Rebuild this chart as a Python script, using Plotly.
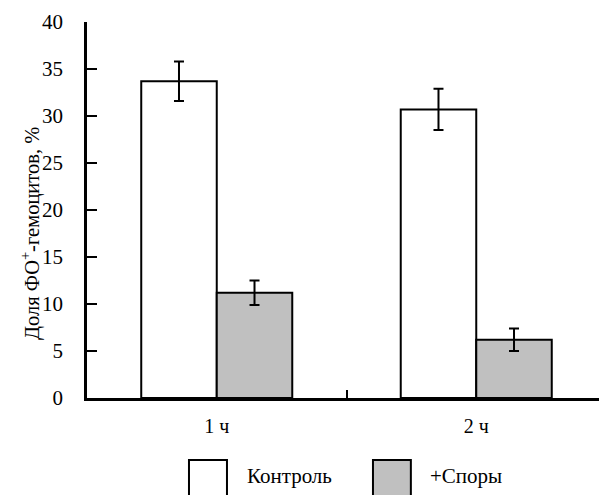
import plotly.graph_objects as go

categories = ["1 ч", "2 ч"]
control = [33.7, 30.7]
control_err = [2.1, 2.2]
spores = [11.2, 6.2]
spores_err = [1.3, 1.2]
series_names = ["Контроль", "+Споры"]
y_ticks = [0, 5, 10, 15, 20, 25, 30, 35, 40]
y_title = "Доля ФО<sup>+</sup>-гемоцитов, %"

FONT = "Liberation Serif"

fig = go.Figure()
fig.add_trace(go.Bar(
    x=categories, y=control, name=series_names[0],
    marker=dict(color="white", line=dict(color="black", width=2)),
    error_y=dict(type="data", array=control_err, color="black", thickness=2, width=5),
    showlegend=False,
))
fig.add_trace(go.Bar(
    x=categories, y=spores, name=series_names[1],
    marker=dict(color="#c0c0c0", line=dict(color="black", width=2)),
    error_y=dict(type="data", array=spores_err, color="black", thickness=2, width=5),
    showlegend=False,
))

# manual legend (large swatches like the reference)
legend_items = [
    (0.1965, 0.2697, "white", 0.304, series_names[0]),
    (0.551, 0.624, "#c0c0c0", 0.657, series_names[1]),
]
for x0, x1, col, tx, label in legend_items:
    fig.add_shape(type="rect", xref="paper", yref="paper", x0=x0, x1=x1,
                  y0=-0.27, y1=-0.165, fillcolor=col, line=dict(color="black", width=2))
    fig.add_annotation(xref="paper", yref="paper", x=tx, y=-0.208, text=label,
                       showarrow=False, xanchor="left", yanchor="middle",
                       font=dict(family=FONT, size=21, color="black"))

# y-axis title as rotated annotation for precise placement
fig.add_annotation(xref="paper", yref="paper", x=0, y=0.5, xshift=-57, yshift=-24,
                   text=y_title, textangle=-90, showarrow=False,
                   xanchor="center", yanchor="middle",
                   font=dict(family=FONT, size=20.5, color="black"))

fig.update_layout(
    width=599, height=487,
    margin=dict(l=79, r=1, t=14, b=97),
    paper_bgcolor="white", plot_bgcolor="white",
    barmode="group", bargap=0.418, bargroupgap=0,
    font=dict(family=FONT, size=21, color="black"),
    xaxis=dict(
        type="category", tickson="boundaries", ticks="inside", ticklen=8,
        tickwidth=2, tickcolor="black", showline=True, linecolor="black",
        linewidth=2.5, showgrid=False, ticklabelstandoff=8,
        tickfont=dict(family=FONT, size=20, color="black"),
    ),
    yaxis=dict(
        range=[0, 40], tickvals=y_ticks, ticks="inside", ticklen=10,
        tickwidth=2, tickcolor="black", showline=True, linecolor="black",
        linewidth=2.5, showgrid=False, zeroline=False, ticklabelstandoff=17,
        tickfont=dict(family=FONT, size=21, color="black"),
    ),
)

fig.write_html("out.html")
